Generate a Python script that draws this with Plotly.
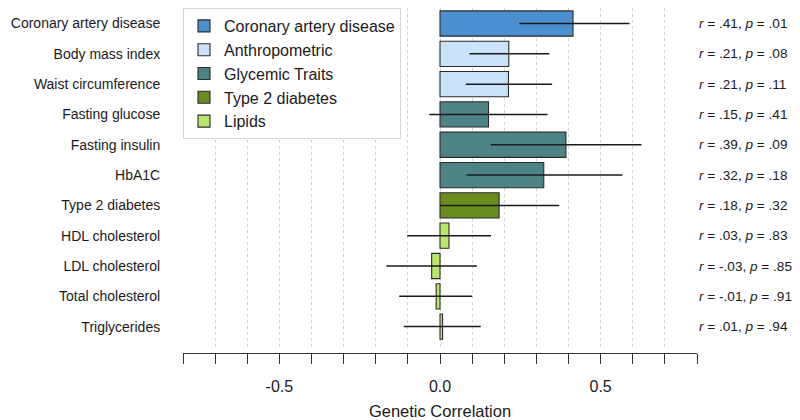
import plotly.graph_objects as go

# ---- data ----
traits = ["Coronary artery disease", "Body mass index", "Waist circumference",
          "Fasting glucose", "Fasting insulin", "HbA1C", "Type 2 diabetes",
          "HDL cholesterol", "LDL cholesterol", "Total cholesterol", "Triglycerides"]
groups = ["Coronary artery disease", "Anthropometric", "Anthropometric",
          "Glycemic Traits", "Glycemic Traits", "Glycemic Traits", "Type 2 diabetes",
          "Lipids", "Lipids", "Lipids", "Lipids"]
r_values = [0.414, 0.214, 0.213, 0.151, 0.392, 0.323, 0.184, 0.028, -0.026, -0.012, 0.008]
ci_lower = [0.247, 0.092, 0.080, -0.033, 0.158, 0.083, 0.000, -0.102, -0.167, -0.127, -0.113]
ci_upper = [0.590, 0.340, 0.349, 0.335, 0.627, 0.568, 0.371, 0.159, 0.115, 0.100, 0.127]
p_values = [0.01, 0.08, 0.11, 0.41, 0.09, 0.18, 0.32, 0.83, 0.85, 0.91, 0.94]

group_order = ["Coronary artery disease", "Anthropometric", "Glycemic Traits",
               "Type 2 diabetes", "Lipids"]
group_colors = {"Coronary artery disease": "#4a8fcf",
                "Anthropometric": "#c9e2fa",
                "Glycemic Traits": "#4c8486",
                "Type 2 diabetes": "#6a8c1e",
                "Lipids": "#b8e86a"}

x_tick_vals = [round(-0.8 + 0.1 * i, 1) for i in range(17)]
x_tick_text = ["-0.5" if v == -0.5 else "0.0" if v == 0.0 else "0.5" if v == 0.5 else ""
               for v in x_tick_vals]

FONT = "Liberation Sans, Arial, Helvetica, sans-serif"


def fmt(v):
    s = f"{round(v, 2):.2f}"
    return s.replace("0.", ".", 1)


fig = go.Figure()
positions = list(range(len(traits)))
for g in group_order:
    idx = [i for i, gg in enumerate(groups) if gg == g]
    fig.add_trace(go.Bar(
        name=g,
        orientation="h",
        y=[positions[i] for i in idx],
        x=[r_values[i] for i in idx],
        width=0.833,
        marker=dict(color=group_colors[g], line=dict(color="#2b2b2b", width=1.1)),
        error_x=dict(type="data", symmetric=False,
                     array=[ci_upper[i] - r_values[i] for i in idx],
                     arrayminus=[r_values[i] - ci_lower[i] for i in idx],
                     color="#1a1a1a", thickness=1.5, width=0),
        hoverinfo="skip",
    ))

for i, t in enumerate(traits):
    fig.add_annotation(
        xref="paper", yref="y", x=1, y=positions[i], xanchor="left", xshift=0,
        text=f"<i>r</i> = {fmt(r_values[i])}, <i>p</i> = {fmt(p_values[i])}",
        showarrow=False, font=dict(family=FONT, size=13.6, color="#1a1a1a"),
    )

fig.update_layout(
    width=784, height=412,
    margin=dict(l=175, r=95, t=0, b=67, pad=0, autoexpand=False),
    paper_bgcolor="white", plot_bgcolor="white",
    barmode="overlay",
    font=dict(family=FONT, color="#1a1a1a"),
    showlegend=True,
    legend=dict(x=0, y=1, xanchor="left", yanchor="top",
                bgcolor="white", bordercolor="#d6d6d6", borderwidth=1,
                font=dict(family=FONT, size=16, color="#1a1a1a"),
                traceorder="normal", tracegroupgap=0),
    xaxis=dict(range=[-0.8, 0.8], tickmode="array", tickvals=x_tick_vals,
               ticktext=x_tick_text, ticks="outside", ticklen=10, tickwidth=1.2,
               tickcolor="#333333", showline=True, linecolor="#333333", linewidth=1.2,
               showgrid=True, gridcolor="#d4d4d4", griddash="dot", gridwidth=1,
               zeroline=False, layer="above traces", automargin=False,
               anchor="free", position=0, ticklabelstandoff=9,
               tickfont=dict(family=FONT, size=16, color="#1a1a1a"),
               title=dict(text="Genetic Correlation", standoff=15,
                          font=dict(family=FONT, size=16.5, color="#1a1a1a"))),
    yaxis=dict(domain=[0.017, 1], range=[10.677, -0.512], tickmode="array",
               tickvals=positions, ticktext=traits, ticks="outside", ticklen=19,
               tickcolor="rgba(0,0,0,0)", showline=False, showgrid=False,
               zeroline=False, automargin=False,
               tickfont=dict(family=FONT, size=14, color="#1a1a1a")),
)

fig.write_html("out.html")
